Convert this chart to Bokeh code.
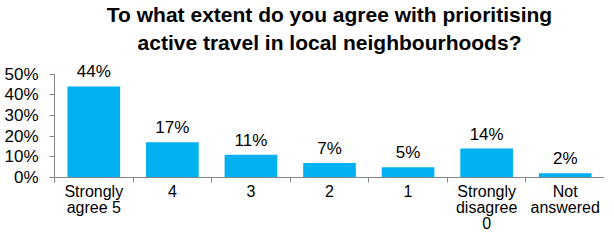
from bokeh.plotting import figure
from bokeh.models import ColumnDataSource, FixedTicker, NumeralTickFormatter, Range1d, Title
from bokeh.embed import file_html
from bokeh.resources import INLINE
from bokeh.core.properties import value

title_lines = ["To what extent do you agree with prioritising", "active travel in local neighbourhoods?"]
categories = ["Strongly\nagree 5", "4", "3", "2", "1", "Strongly\ndisagree\n0", "Not\nanswered"]
values = [0.44, 0.17, 0.11, 0.07, 0.05, 0.14, 0.02]
value_labels = ["44%", "17%", "11%", "7%", "5%", "14%", "2%"]
y_ticks = [0, 0.1, 0.2, 0.3, 0.4, 0.5]

FONT = "Liberation Sans"
n = len(categories)
xs = [i + 0.5 for i in range(n)]

src = ColumnDataSource(dict(x=xs, top=values, lab=value_labels))

p = figure(width=604, height=234, output_backend="svg", toolbar_location=None,
           x_range=Range1d(0, n), y_range=Range1d(0, 0.58),
           min_border_left=54, min_border_right=0, min_border_bottom=0, min_border_top=5)

# outer title line (figure title) and inner title line (added layout, closer to plot)
p.title.text = title_lines[0]
p.title.text_font = FONT
p.title.text_font_size = "21px"
p.title.text_font_style = "bold"
p.title.align = "center"
p.title.text_color = "#000000"
p.title.standoff = 0
p.title.offset = -38
t2 = Title(text=title_lines[1], text_font=FONT, text_font_size="21px", text_font_style="bold",
           align="center", text_color="#000000", standoff=7, offset=-38)
p.add_layout(t2, "above")

p.vbar(x="x", top="top", width=0.67, source=src, color="#00B0F0", line_color=None)
p.text(x="x", y="top", text="lab", source=src, text_align="center", text_baseline="bottom",
       y_offset=-5, text_font=value(FONT), text_font_size="17px", text_color="#000000")

p.xgrid.visible = False
p.ygrid.visible = False
p.outline_line_color = None
p.background_fill_color = "white"
p.border_fill_color = "white"

xa = p.xaxis[0]
xa.ticker = FixedTicker(ticks=xs, minor_ticks=list(range(n + 1)))
xa.major_label_overrides = {x: c for x, c in zip(xs, categories)}
xa.major_tick_out = 0
xa.major_tick_in = 0
xa.minor_tick_out = 5
xa.minor_tick_in = 0
xa.minor_tick_line_color = "#868686"
xa.axis_line_color = "#868686"
xa.major_label_text_font = FONT
xa.major_label_text_font_size = "16px"
xa.major_label_text_color = "#000000"
xa.major_label_text_line_height = 0.95
xa.major_label_standoff = 0
xa.axis_label_standoff = 0
xa.bounds = (0, n)

ya = p.yaxis[0]
ya.ticker = FixedTicker(ticks=y_ticks, minor_ticks=[])
ya.formatter = NumeralTickFormatter(format="0%")
ya.bounds = (0, 0.5)
ya.major_tick_out = 5
ya.major_tick_in = 0
ya.major_tick_line_color = "#868686"
ya.axis_line_color = "#868686"
ya.major_label_text_font = FONT
ya.major_label_text_font_size = "17px"
ya.major_label_text_color = "#000000"
ya.major_label_standoff = 11

open("out.html", "w").write(file_html(p, INLINE))
